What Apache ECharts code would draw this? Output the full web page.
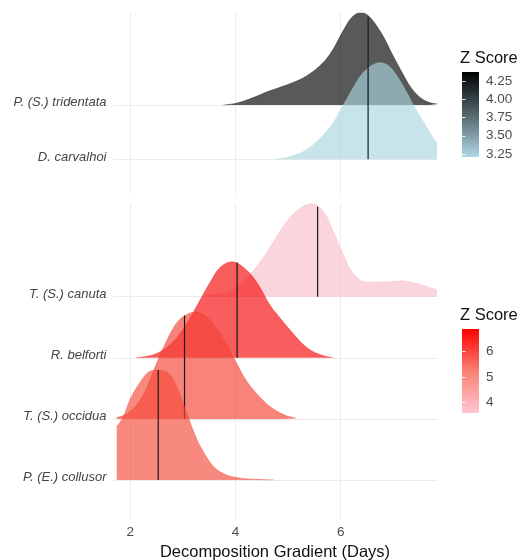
<!DOCTYPE html>
<html><head><meta charset="utf-8">
<script src="https://cdn.jsdelivr.net/npm/echarts@6/dist/echarts.min.js"></script>
<style>html,body{margin:0;padding:0;background:#fff}#c{width:525px;height:560px}</style>
</head><body><div id="c"></div>
<script>
// ---------- data ----------
const topSpecies = ['D. carvalhoi', 'P. (S.) tridentata'];            // rows 1..2 (bottom to top)
const bottomSpecies = ['P. (E.) collusor', 'T. (S.) occidua', 'R. belforti', 'T. (S.) canuta']; // rows 1..4
const xTicks = [2, 4, 6];
const zTicksTop = [3.25, 3.5, 3.75, 4.0, 4.25];
const zTicksBottom = [4, 5, 6];

// density curves: x (days) and ridge height (in row units)
const tridentataX = [3.77, 3.95, 4.15, 4.40, 4.59, 4.80, 5.03, 5.25, 5.42, 5.60, 5.73, 5.87, 5.99, 6.09, 6.18, 6.28, 6.37, 6.47, 6.56, 6.68, 6.81, 6.94, 7.07, 7.20, 7.32, 7.45, 7.58, 7.70, 7.83];
const tridentataH = [0.00, 0.02, 0.07, 0.16, 0.24, 0.31, 0.39, 0.48, 0.58, 0.72, 0.85, 1.05, 1.27, 1.44, 1.58, 1.67, 1.71, 1.68, 1.61, 1.46, 1.26, 1.01, 0.77, 0.54, 0.34, 0.19, 0.09, 0.04, 0.02];
const carvalhoiX = [4.75, 5.00, 5.22, 5.38, 5.54, 5.70, 5.86, 5.98, 6.11, 6.24, 6.37, 6.56, 6.75, 6.88, 7.00, 7.13, 7.26, 7.38, 7.51, 7.64, 7.76, 7.83];
const carvalhoiH = [0.00, 0.04, 0.11, 0.20, 0.32, 0.48, 0.67, 0.88, 1.10, 1.32, 1.53, 1.71, 1.78, 1.74, 1.63, 1.44, 1.22, 1.00, 0.79, 0.58, 0.39, 0.31];
const canutaX = [3.33, 3.60, 3.95, 4.21, 4.47, 4.72, 4.97, 5.23, 5.45, 5.67, 5.86, 6.05, 6.24, 6.49, 6.81, 7.13, 7.44, 7.83];
const canutaH = [0.00, 0.04, 0.11, 0.30, 0.57, 0.90, 1.23, 1.45, 1.52, 1.40, 1.07, 0.69, 0.38, 0.24, 0.24, 0.26, 0.22, 0.11];
const belfortiX = [2.12, 2.44, 2.69, 2.94, 3.20, 3.52, 3.71, 3.93, 4.15, 4.40, 4.66, 4.78, 5.10, 5.35, 5.61, 5.86];
const belfortiH = [0.00, 0.05, 0.17, 0.39, 0.75, 1.24, 1.48, 1.57, 1.48, 1.24, 0.85, 0.72, 0.39, 0.17, 0.05, 0.00];
const occiduaX = [1.74, 1.90, 2.09, 2.28, 2.47, 2.69, 2.88, 3.04, 3.23, 3.45, 3.71, 3.96, 4.21, 4.47, 4.72, 4.97, 5.16];
const occiduaH = [0.02, 0.07, 0.20, 0.45, 0.85, 1.28, 1.57, 1.69, 1.75, 1.67, 1.39, 1.01, 0.62, 0.35, 0.16, 0.05, 0.01];
const collusorX = [1.74, 1.87, 1.99, 2.18, 2.37, 2.53, 2.72, 2.88, 3.04, 3.20, 3.33, 3.58, 3.83, 4.09, 4.40, 4.72];
const collusorH = [0.87, 1.04, 1.31, 1.59, 1.78, 1.80, 1.75, 1.53, 1.17, 0.80, 0.55, 0.22, 0.08, 0.03, 0.01, 0.00];

// medians (days) and curve height at the median
const topMedians = [6.52, 6.52];          // D. carvalhoi, P. tridentata
const topMedianH = [1.69, 1.62];
const bottomMedians = [2.53, 3.03, 4.03, 5.56]; // collusor, occidua, belforti, canuta
const bottomMedianH = [1.80, 1.69, 1.56, 1.47];

// ---------- styling ----------
const FONT = '"Liberation Sans", Arial, Helvetica, sans-serif';
const GRIDC = '#ebebeb';
const fills = {
  tridentata: 'rgba(0,0,0,0.65)',
  carvalhoi: 'rgba(170,213,224,0.65)',
  canuta: 'rgba(249,190,201,0.65)',
  belforti: 'rgba(244,7,7,0.65)',
  occidua: 'rgba(244,64,50,0.65)',
  collusor: 'rgba(244,73,58,0.65)'
};

function ridge(xs, hs, row, grid, color, z) {
  return {
    type: 'line', xAxisIndex: grid, yAxisIndex: grid,
    data: xs.map((x, i) => [x, row + hs[i]]),
    smooth: 0.35, symbol: 'none', showSymbol: false,
    lineStyle: { width: 0.6, color: color },
    areaStyle: { color: color, opacity: 1, origin: row },
    z: z, silent: true
  };
}
function medianLine(m, h, row, grid, z) {
  return {
    type: 'line', xAxisIndex: grid, yAxisIndex: grid,
    data: [[m, row], [m, row + h]],
    symbol: 'none', showSymbol: false,
    lineStyle: { width: 1.2, color: '#1a1a1a' },
    z: z, silent: true
  };
}

const series = [
  ridge(tridentataX, tridentataH, 2, 0, fills.tridentata, 2),
  medianLine(topMedians[1], topMedianH[1], 2, 0, 3),
  ridge(carvalhoiX, carvalhoiH, 1, 0, fills.carvalhoi, 4),
  medianLine(topMedians[0], topMedianH[0], 1, 0, 5),
  ridge(canutaX, canutaH, 4, 1, fills.canuta, 2),
  medianLine(bottomMedians[3], bottomMedianH[3], 4, 1, 3),
  ridge(belfortiX, belfortiH, 3, 1, fills.belforti, 4),
  medianLine(bottomMedians[2], bottomMedianH[2], 3, 1, 5),
  ridge(occiduaX, occiduaH, 2, 1, fills.occidua, 6),
  medianLine(bottomMedians[1], bottomMedianH[1], 2, 1, 7),
  ridge(collusorX, collusorH, 1, 1, fills.collusor, 8),
  medianLine(bottomMedians[0], bottomMedianH[0], 1, 1, 9)
];

function xAx(grid, showLabels) {
  const a = {
    gridIndex: grid, type: 'value', min: 1.67, max: 7.83,
    axisLine: { show: false },
    axisTick: { show: false, customValues: xTicks },
    axisLabel: { show: showLabels, customValues: xTicks, color: '#4d4d4d', fontSize: 13.5, margin: 5, fontFamily: FONT },
    splitLine: { show: true, lineStyle: { color: GRIDC, width: 1 } }
  };
  if (showLabels) {
    a.name = 'Decomposition Gradient (Days)';
    a.nameLocation = 'middle';
    a.nameGap = 23;
    a.nameTextStyle = { color: '#111', fontSize: 16.5, fontFamily: FONT };
  }
  return a;
}
function yAx(grid, names, min, max) {
  const vals = names.map((n, i) => i + 1);
  const labelVals = vals.map(v => v + 0.04);
  return {
    gridIndex: grid, type: 'value', min: min, max: max,
    axisLine: { show: false },
    axisTick: { show: false, customValues: vals },
    axisLabel: {
      customValues: labelVals, formatter: v => names[Math.round(v) - 1],
      fontStyle: 'italic', color: '#444', fontSize: 13, fontFamily: FONT,
      margin: 6.5, verticalAlign: 'middle'
    },
    splitLine: { show: true, lineStyle: { color: GRIDC, width: 1 } }
  };
}
function legAxis(grid, min, max, ticks, pos, showLabel, dec) {
  return {
    gridIndex: grid, type: 'value', min: min, max: max, position: pos, z: 10,
    axisLine: { show: false },
    axisTick: { show: true, inside: true, length: 3.5, customValues: ticks, lineStyle: { color: 'rgba(255,255,255,0.85)', width: 1 } },
    axisLabel: { show: showLabel, customValues: ticks, formatter: v => v.toFixed(dec), color: '#4d4d4d', fontSize: 13.5, margin: 7, fontFamily: FONT },
    splitLine: { show: false }
  };
}

const option = {
  animation: false,
  backgroundColor: '#fff',
  textStyle: { fontFamily: FONT },
  grid: [
    { left: 113, right: 88, top: 13, height: 181, outerBoundsMode: 'none', containLabel: false },
    { left: 113, right: 88, top: 203, height: 317, outerBoundsMode: 'none', containLabel: false },
    { left: 462, width: 17, top: 72, height: 85, outerBoundsMode: 'none', containLabel: false },
    { left: 462, width: 17, top: 329, height: 84, outerBoundsMode: 'none', containLabel: false }
  ],
  xAxis: [
    xAx(0, false), xAx(1, true),
    { gridIndex: 2, type: 'value', show: false, min: 0, max: 1 },
    { gridIndex: 3, type: 'value', show: false, min: 0, max: 1 }
  ],
  yAxis: [
    yAx(0, topSpecies, 0.361, 3.694),
    yAx(1, bottomSpecies, 0.345, 5.533),
    legAxis(2, 3.21, 4.37, zTicksTop, 'right', true, 2),
    legAxis(3, 3.58, 6.89, zTicksBottom, 'right', true, 0),
    legAxis(2, 3.21, 4.37, zTicksTop, 'left', false, 2),
    legAxis(3, 3.58, 6.89, zTicksBottom, 'left', false, 0)
  ],
  graphic: [
    { type: 'rect', z: 1, shape: { x: 462, y: 72, width: 17, height: 85 },
      style: { fill: new echarts.graphic.LinearGradient(0, 0, 0, 1, [
        { offset: 0, color: '#000000' }, { offset: 0.25, color: '#283438' },
        { offset: 0.5, color: '#55666d' }, { offset: 0.75, color: '#809ea8' },
        { offset: 1, color: '#add8e6' }]) } },
    { type: 'rect', z: 1, shape: { x: 462, y: 329, width: 17, height: 84 },
      style: { fill: new echarts.graphic.LinearGradient(0, 0, 0, 1, [
        { offset: 0, color: '#ff0000' }, { offset: 0.5, color: '#fb8073' },
        { offset: 1, color: '#ffc6d0' }]) } },
    { type: 'text', z: 1, x: 460, y: 50, style: { text: 'Z Score', fontSize: 16.5, fontFamily: FONT, fill: '#111' } },
    { type: 'text', z: 1, x: 460, y: 307, style: { text: 'Z Score', fontSize: 16.5, fontFamily: FONT, fill: '#111' } }
  ],
  series: series
};

const chart = echarts.init(document.getElementById('c'), null, { renderer: 'canvas' });
chart.setOption(option);
</script>
</body></html>
